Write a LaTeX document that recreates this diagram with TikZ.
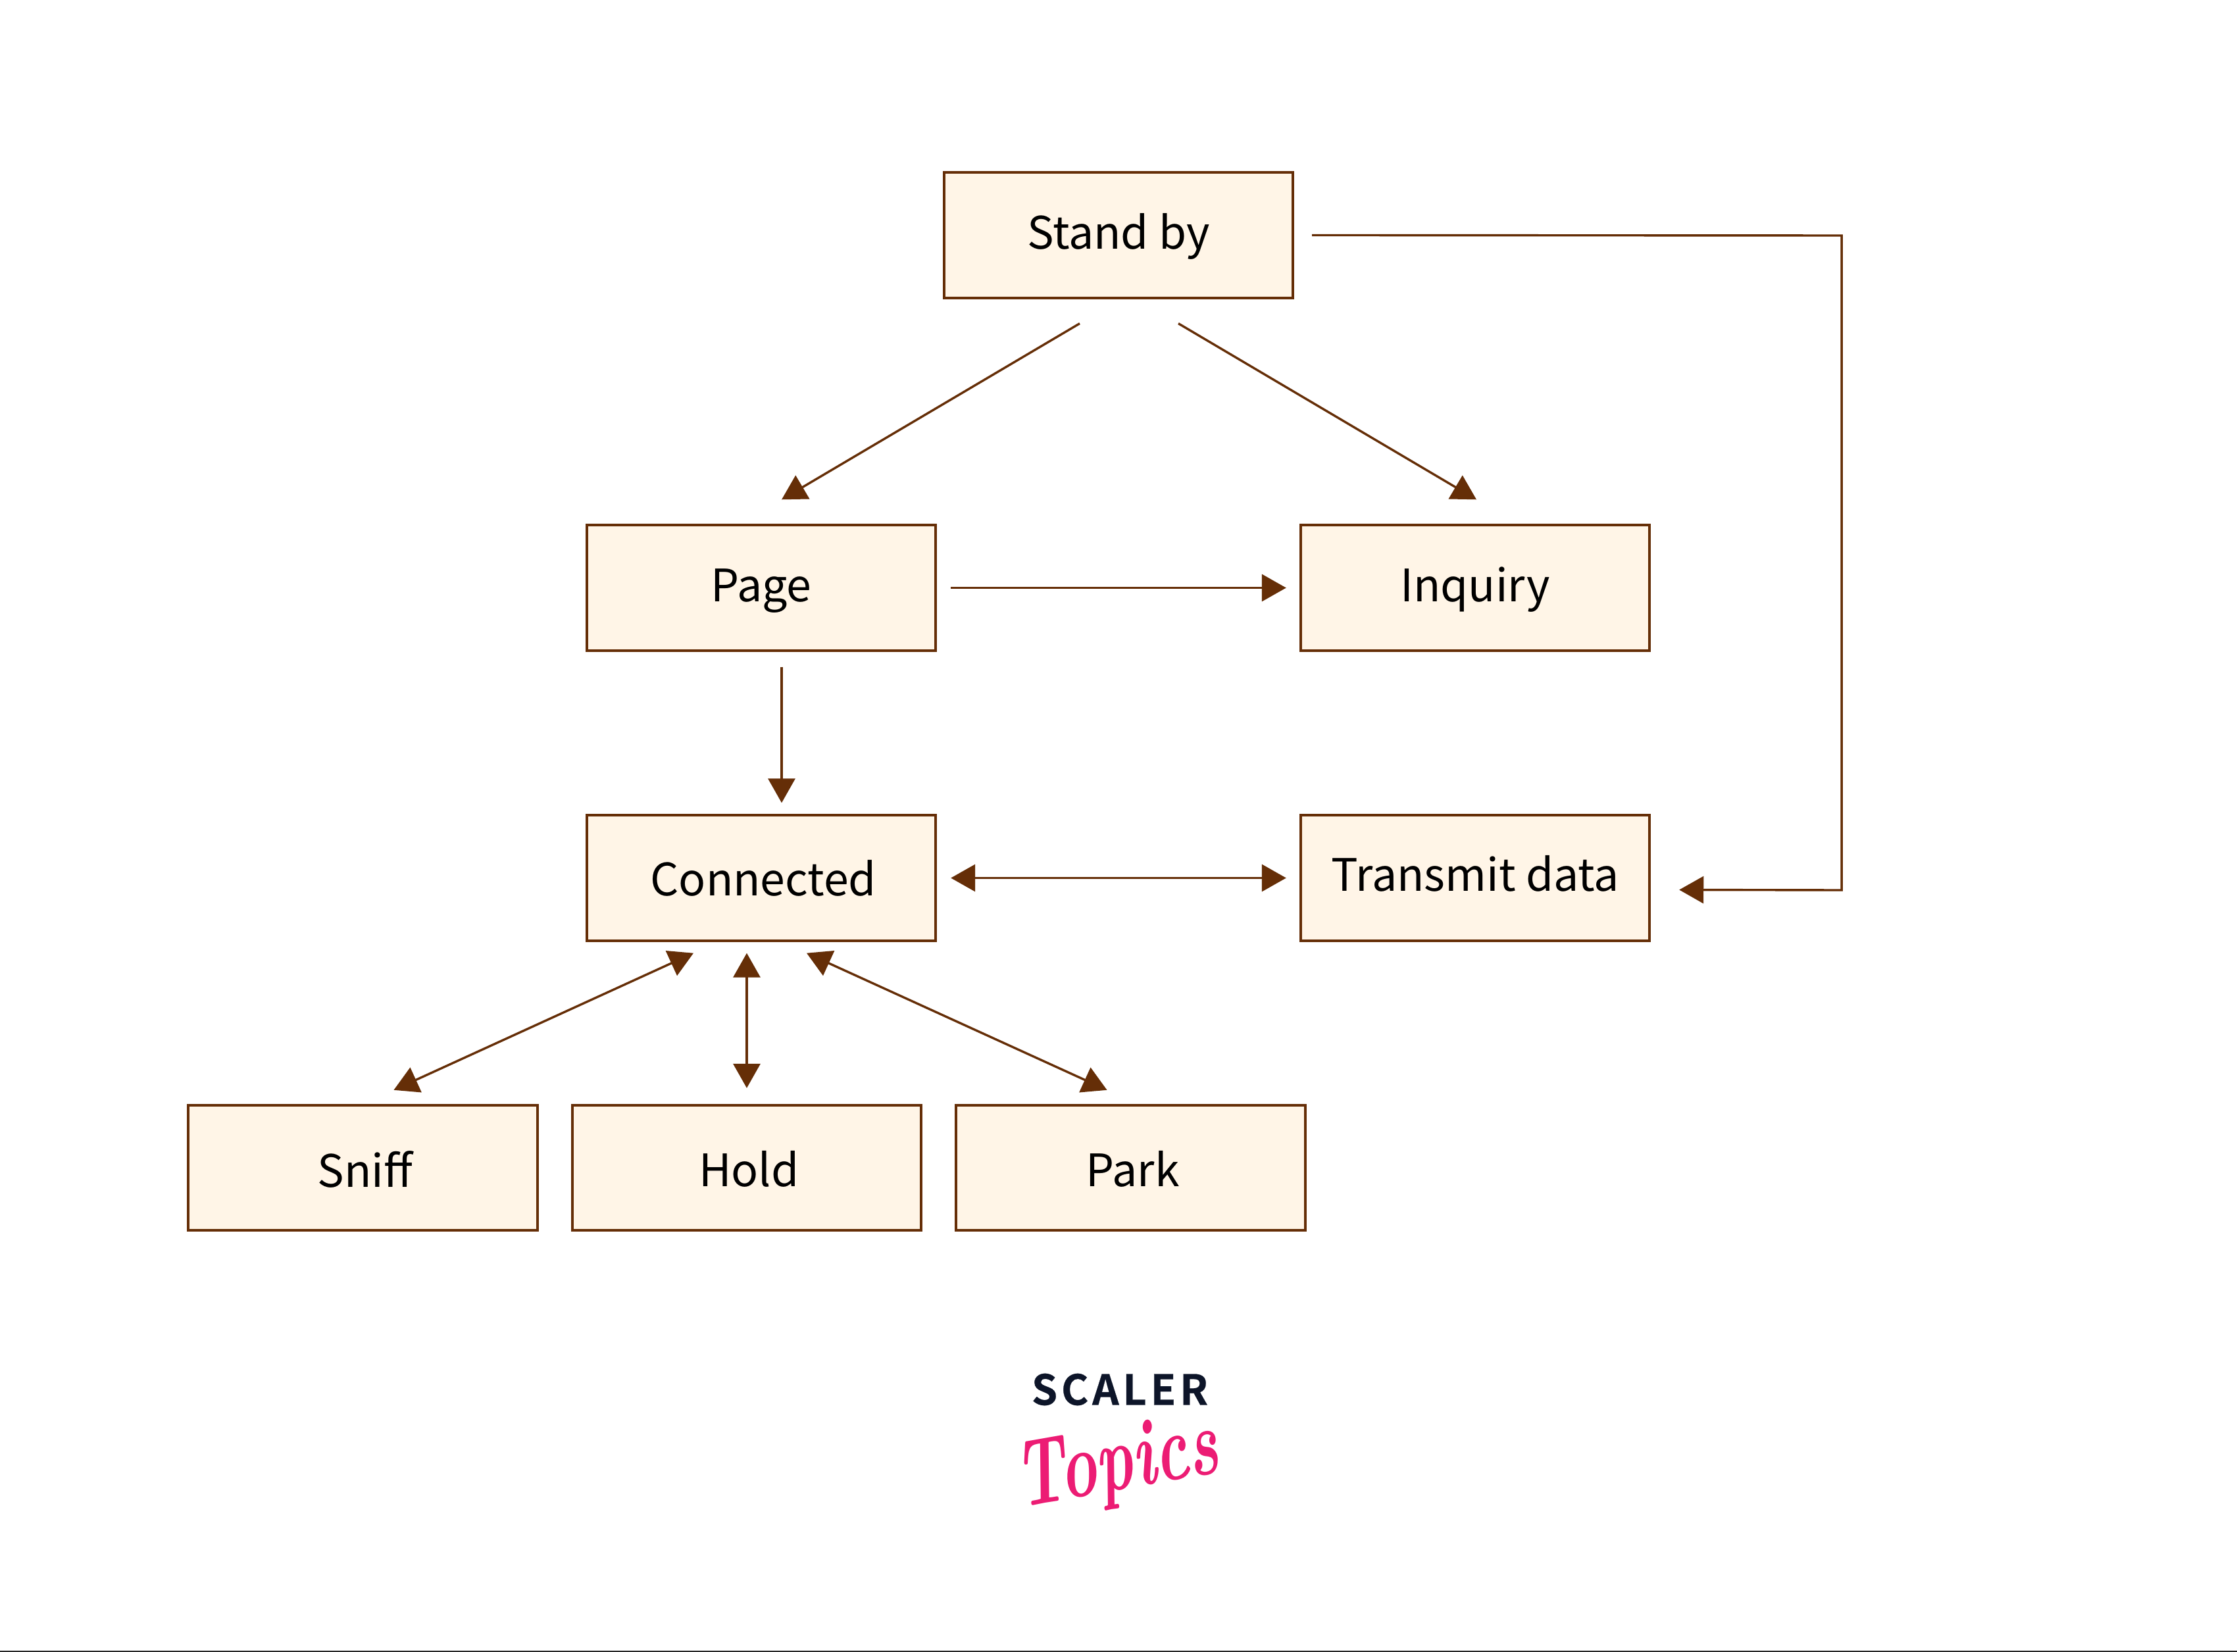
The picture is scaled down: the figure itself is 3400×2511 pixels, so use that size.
\documentclass[tikz,border=0pt]{standalone}
\usepackage{graphicx}
\usepackage{fontspec}
\setmainfont{Noto Sans CJK JP}
\newfontfamily\logofont[LetterSpace=9,FakeBold=0.4]{Noto Sans CJK JP Bold}
\newfontfamily\topicsfont{Latin Modern Roman}
\usetikzlibrary{arrows.meta,calc}
\definecolor{linebrown}{HTML}{652E07}
\definecolor{boxfill}{HTML}{FFF5E7}
\definecolor{logonavy}{HTML}{0D1529}
\definecolor{logopink}{HTML}{EC1C74}
\newcommand{\nudged}[3]{\hspace*{#1}\raisebox{#2}[\height][\depth]{#3}}
\tikzset{
  state/.style={draw=linebrown,fill=boxfill,line width=1pt,inner sep=0pt,
    minimum width=132.6pt,minimum height=47.6pt,font=\fontsize{17}{20}\selectfont,text=black},
  link/.style={draw=linebrown,line width=0.85pt},
  tip/.style={-{Triangle[length=9.25pt,width=10.25pt,color=linebrown]}},
  tips/.style={{Triangle[length=9.25pt,width=10.25pt,color=linebrown]}-{Triangle[length=9.25pt,width=10.25pt,color=linebrown]}},
}
\begin{document}
\begin{tikzpicture}[x=0.25pt,y=-0.25pt]
\useasboundingbox (0,0) rectangle (3400,2511);
\fill[white] (0,0) rectangle (3400,2511);
\node[state] (standby) at (1700,357.5) {\nudged{0pt}{-0.5pt}{Stand by}};
\node[state] (page) at (1157,893.5) {\nudged{0pt}{-1.1pt}{Page}};
\node[state] (inquiry) at (2242,893.5) {\nudged{0pt}{-0.55pt}{Inquiry}};
\node[state] (connected) at (1157,1334.5) {\nudged{1.6pt}{0pt}{Connected}};
\node[state] (transmit) at (2242,1334.5) {\nudged{0pt}{1.6pt}{Transmit data}};
\node[state] (sniff) at (551.5,1775) {\nudged{1.6pt}{-0.55pt}{Sniff}};
\node[state] (hold) at (1135,1775) {\nudged{1.6pt}{-0.55pt}{Hold}};
\node[state] (park) at (1718.5,1775) {\nudged{1.6pt}{-0.55pt}{Park}};
\coordinate (corner1) at (2799,358);
\coordinate (corner2) at (2799,1353);
\draw[link,tip] ($(standby.east)+(27,0)$) -- (corner1) -- (corner2) -- ($(transmit.east)+(43,18)$);
\draw[link,tip] ($(standby.south)+(-59,37)$) -- ($(page.north)+(31,-37)$);
\draw[link,tip] ($(standby.south)+(91,37)$) -- ($(inquiry.north)+(2,-37)$);
\draw[link,tip] ($(page.east)+(21,0)$) -- ($(inquiry.west)+(-20,0)$);
\draw[link,tip] ($(page.south)+(31,23)$) -- ($(connected.north)+(31,-17)$);
\draw[link,tips] ($(connected.east)+(21,0)$) -- ($(transmit.west)+(-20,0)$);
\draw[link,tips] ($(connected.south)+(-103,17)$) -- ($(sniff.north)+(47,-21)$);
\draw[link,tips] ($(connected.south)+(-22,17)$) -- ($(hold.north)+(0,-24)$);
\draw[link,tips] ($(connected.south)+(69,17)$) -- ($(park.north)+(-36,-21)$);
\node[inner sep=0pt,text=logonavy,font=\logofont\fontsize{15.8}{18}\selectfont] (scaler) at (1702,2112) {SCALER};
\node[inner sep=0pt,text=logopink,rotate=10,font=\topicsfont\bfseries\itshape\fontsize{36}{40}\selectfont] (topics) at (1698,2230) {\scalebox{0.66}[1]{Topics}};
\fill[black!85] (0,2509) rectangle (3400,2511);
\end{tikzpicture}
\end{document}
